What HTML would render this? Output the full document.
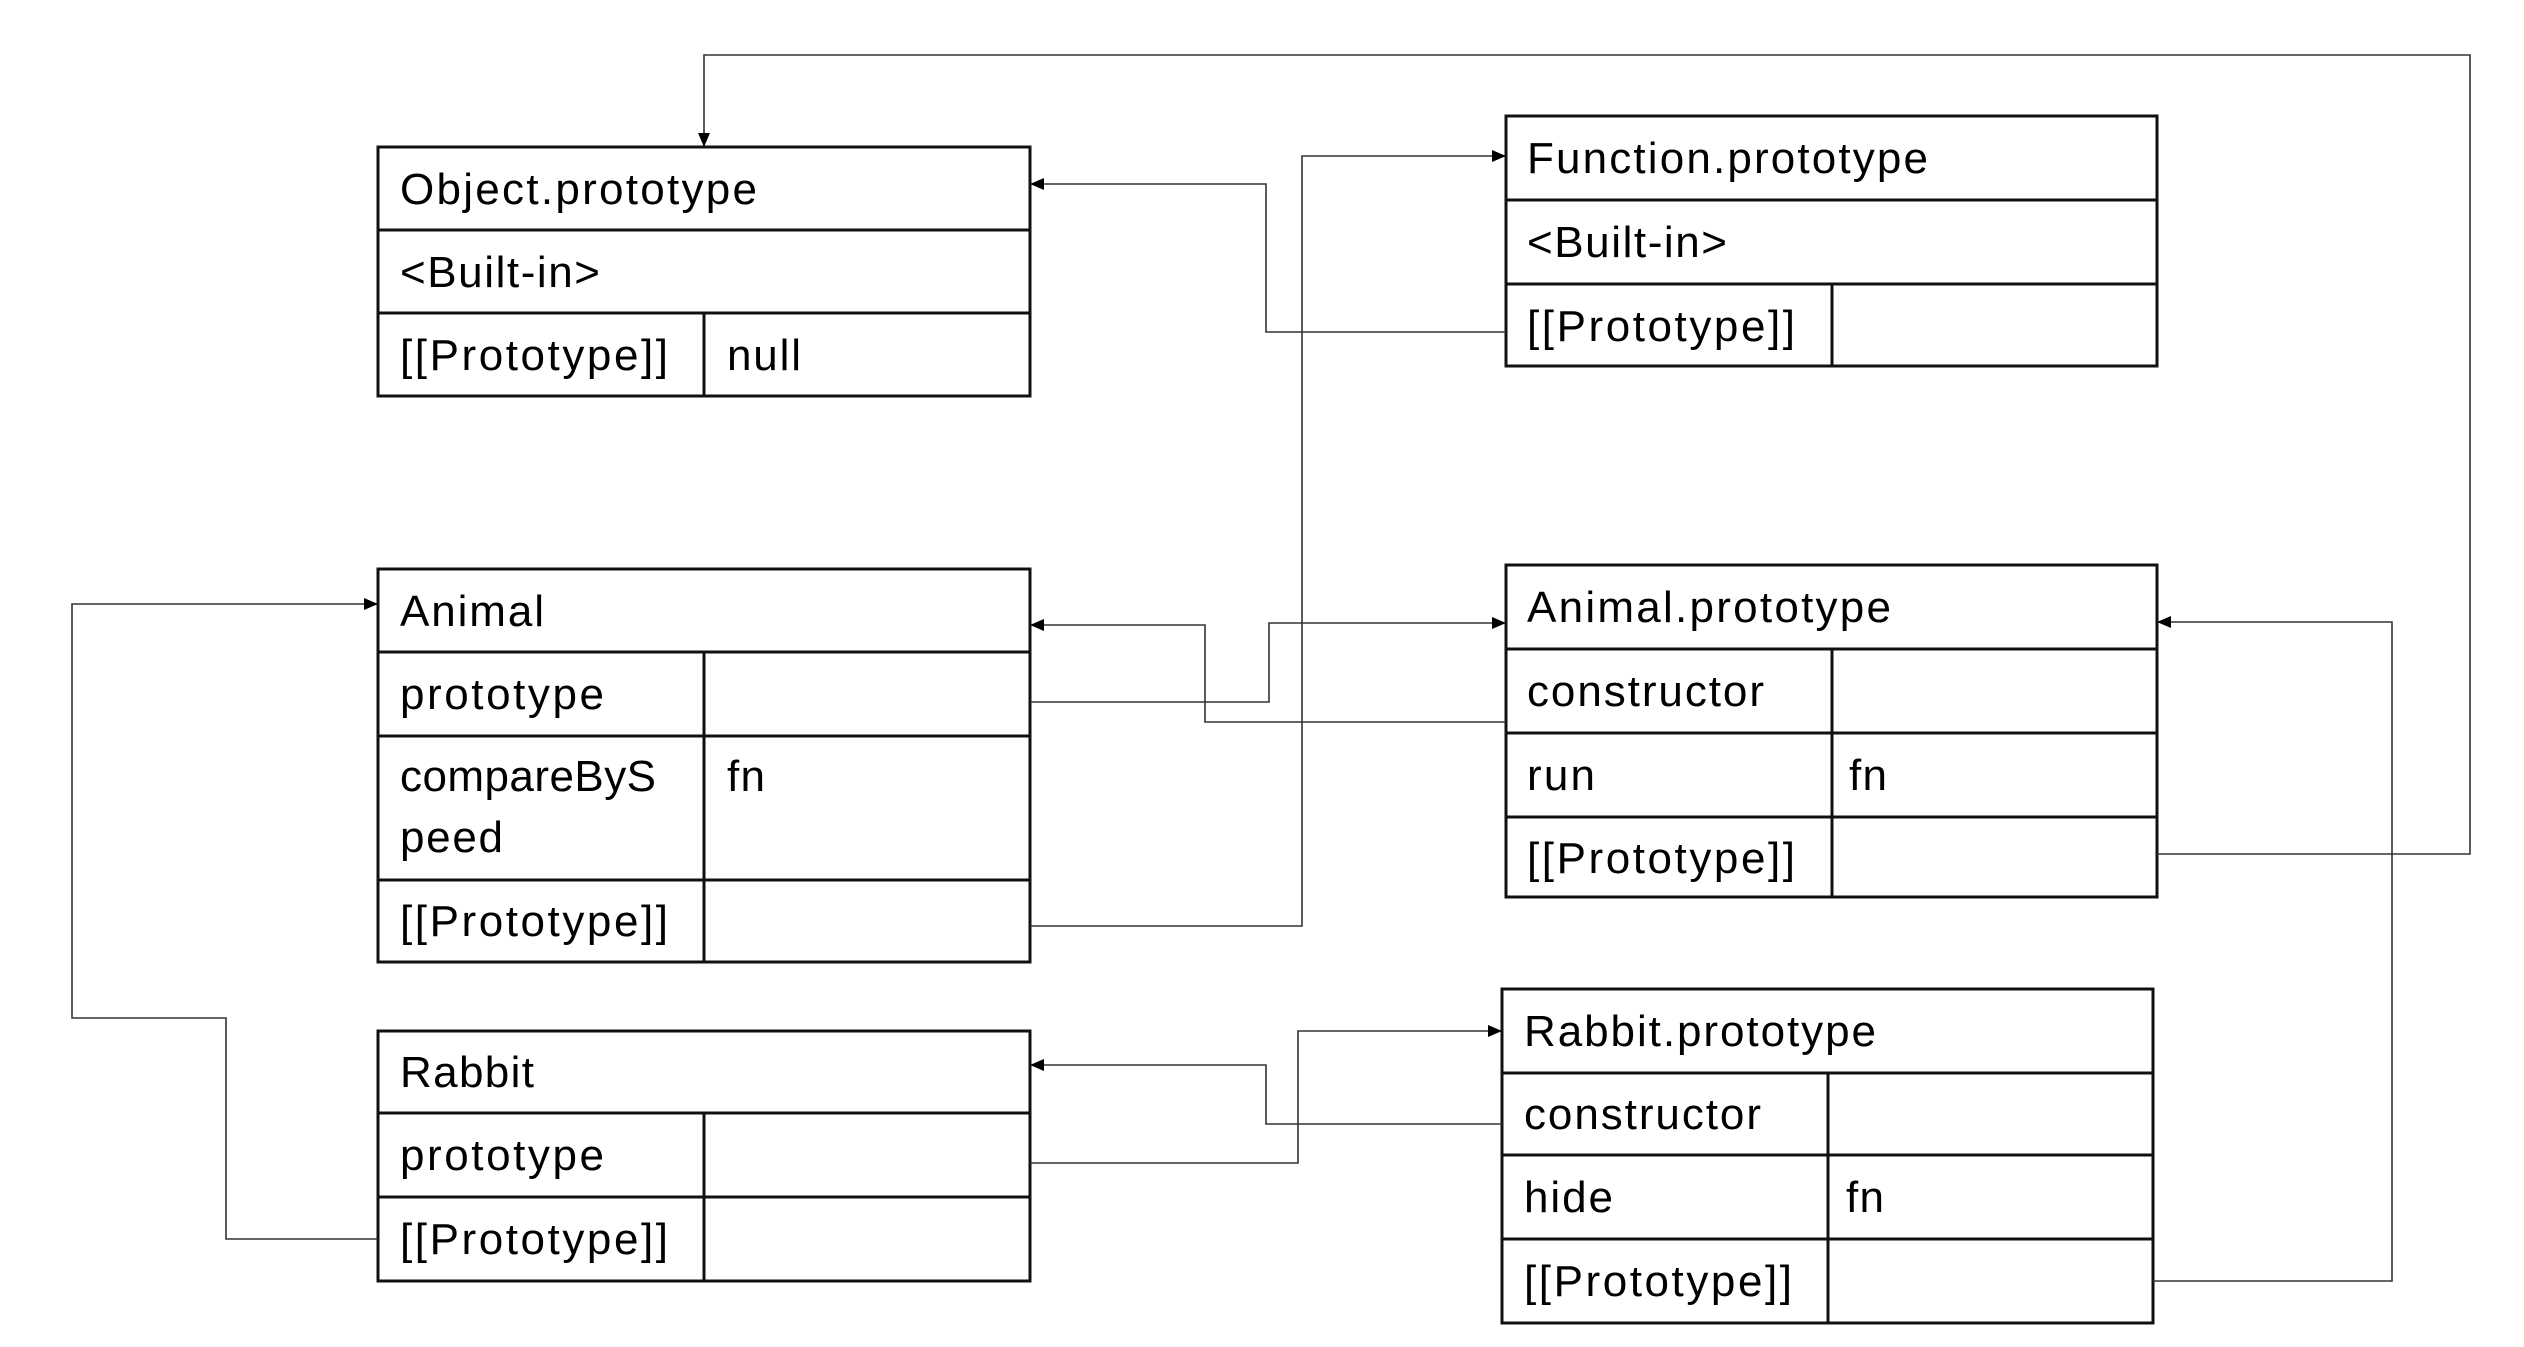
<!DOCTYPE html>
<html><head><meta charset="utf-8"><style>
html,body{margin:0;padding:0;background:#fff;}
svg{display:block;}
text{font-family:"Liberation Sans",sans-serif;font-size:44px;fill:#000;}
.b{fill:none;stroke:#111;stroke-width:3;}
.c{fill:none;stroke:#333;stroke-width:1.6;}
</style></head><body>
<svg width="2524" height="1347" viewBox="0 0 2524 1347" xmlns="http://www.w3.org/2000/svg">
<defs><marker id="a" markerWidth="14" markerHeight="14" refX="13" refY="7" orient="auto" markerUnits="userSpaceOnUse"><path d="M0,1 L14,7 L0,13 z" fill="#000"/></marker></defs>

<!-- Object.prototype -->
<rect class="b" x="378" y="147" width="652" height="249"/>
<line class="b" x1="378" y1="230" x2="1030" y2="230"/>
<line class="b" x1="378" y1="313" x2="1030" y2="313"/>
<line class="b" x1="704" y1="313" x2="704" y2="396"/>
<text x="400" y="204" textLength="357">Object.prototype</text>
<text x="400" y="287" textLength="200">&lt;Built-in&gt;</text>
<text x="400" y="370" textLength="268">[[Prototype]]</text>
<text x="727" y="370" textLength="74">null</text>

<!-- Function.prototype -->
<rect class="b" x="1506" y="116" width="651" height="250"/>
<line class="b" x1="1506" y1="200" x2="2157" y2="200"/>
<line class="b" x1="1506" y1="284" x2="2157" y2="284"/>
<line class="b" x1="1832" y1="284" x2="1832" y2="366"/>
<text x="1527" y="173" textLength="401">Function.prototype</text>
<text x="1527" y="257" textLength="200">&lt;Built-in&gt;</text>
<text x="1527" y="341" textLength="268">[[Prototype]]</text>

<!-- Animal -->
<rect class="b" x="378" y="569" width="652" height="393"/>
<line class="b" x1="378" y1="652" x2="1030" y2="652"/>
<line class="b" x1="378" y1="736" x2="1030" y2="736"/>
<line class="b" x1="378" y1="880" x2="1030" y2="880"/>
<line class="b" x1="704" y1="652" x2="704" y2="962"/>
<text x="400" y="626" textLength="144">Animal</text>
<text x="400" y="709" textLength="204">prototype</text>
<text x="400" y="791" textLength="256">compareByS</text>
<text x="400" y="852" textLength="103">peed</text>
<text x="727" y="791" textLength="38">fn</text>
<text x="400" y="936" textLength="268">[[Prototype]]</text>

<!-- Animal.prototype -->
<rect class="b" x="1506" y="565" width="651" height="332"/>
<line class="b" x1="1506" y1="649" x2="2157" y2="649"/>
<line class="b" x1="1506" y1="733" x2="2157" y2="733"/>
<line class="b" x1="1506" y1="817" x2="2157" y2="817"/>
<line class="b" x1="1832" y1="649" x2="1832" y2="897"/>
<text x="1527" y="622" textLength="364">Animal.prototype</text>
<text x="1527" y="706" textLength="237">constructor</text>
<text x="1527" y="790" textLength="68">run</text>
<text x="1849" y="790" textLength="38">fn</text>
<text x="1527" y="873" textLength="268">[[Prototype]]</text>

<!-- Rabbit -->
<rect class="b" x="378" y="1031" width="652" height="250"/>
<line class="b" x1="378" y1="1113" x2="1030" y2="1113"/>
<line class="b" x1="378" y1="1197" x2="1030" y2="1197"/>
<line class="b" x1="704" y1="1113" x2="704" y2="1281"/>
<text x="400" y="1087" textLength="134">Rabbit</text>
<text x="400" y="1170" textLength="204">prototype</text>
<text x="400" y="1254" textLength="268">[[Prototype]]</text>

<!-- Rabbit.prototype -->
<rect class="b" x="1502" y="989" width="651" height="334"/>
<line class="b" x1="1502" y1="1073" x2="2153" y2="1073"/>
<line class="b" x1="1502" y1="1155" x2="2153" y2="1155"/>
<line class="b" x1="1502" y1="1239" x2="2153" y2="1239"/>
<line class="b" x1="1828" y1="1073" x2="1828" y2="1323"/>
<text x="1524" y="1046" textLength="352">Rabbit.prototype</text>
<text x="1524" y="1129" textLength="237">constructor</text>
<text x="1524" y="1212" textLength="89">hide</text>
<text x="1846" y="1212" textLength="38">fn</text>
<text x="1524" y="1296" textLength="268">[[Prototype]]</text>

<!-- connectors -->
<polyline class="c" marker-end="url(#a)" points="2157,854 2470,854 2470,55 704,55 704,146"/>
<polyline class="c" marker-end="url(#a)" points="1506,332 1266,332 1266,184 1031,184"/>
<polyline class="c" marker-end="url(#a)" points="1030,926 1302,926 1302,156 1505,156"/>
<polyline class="c" marker-end="url(#a)" points="1030,702 1269,702 1269,623 1505,623"/>
<polyline class="c" marker-end="url(#a)" points="1506,722 1205,722 1205,625 1031,625"/>
<polyline class="c" marker-end="url(#a)" points="378,1239 226,1239 226,1018 72,1018 72,604 377,604"/>
<polyline class="c" marker-end="url(#a)" points="1030,1163 1298,1163 1298,1031 1501,1031"/>
<polyline class="c" marker-end="url(#a)" points="1502,1124 1266,1124 1266,1065 1031,1065"/>
<polyline class="c" marker-end="url(#a)" points="2153,1281 2392,1281 2392,622 2158,622"/>
</svg>
</body></html>
